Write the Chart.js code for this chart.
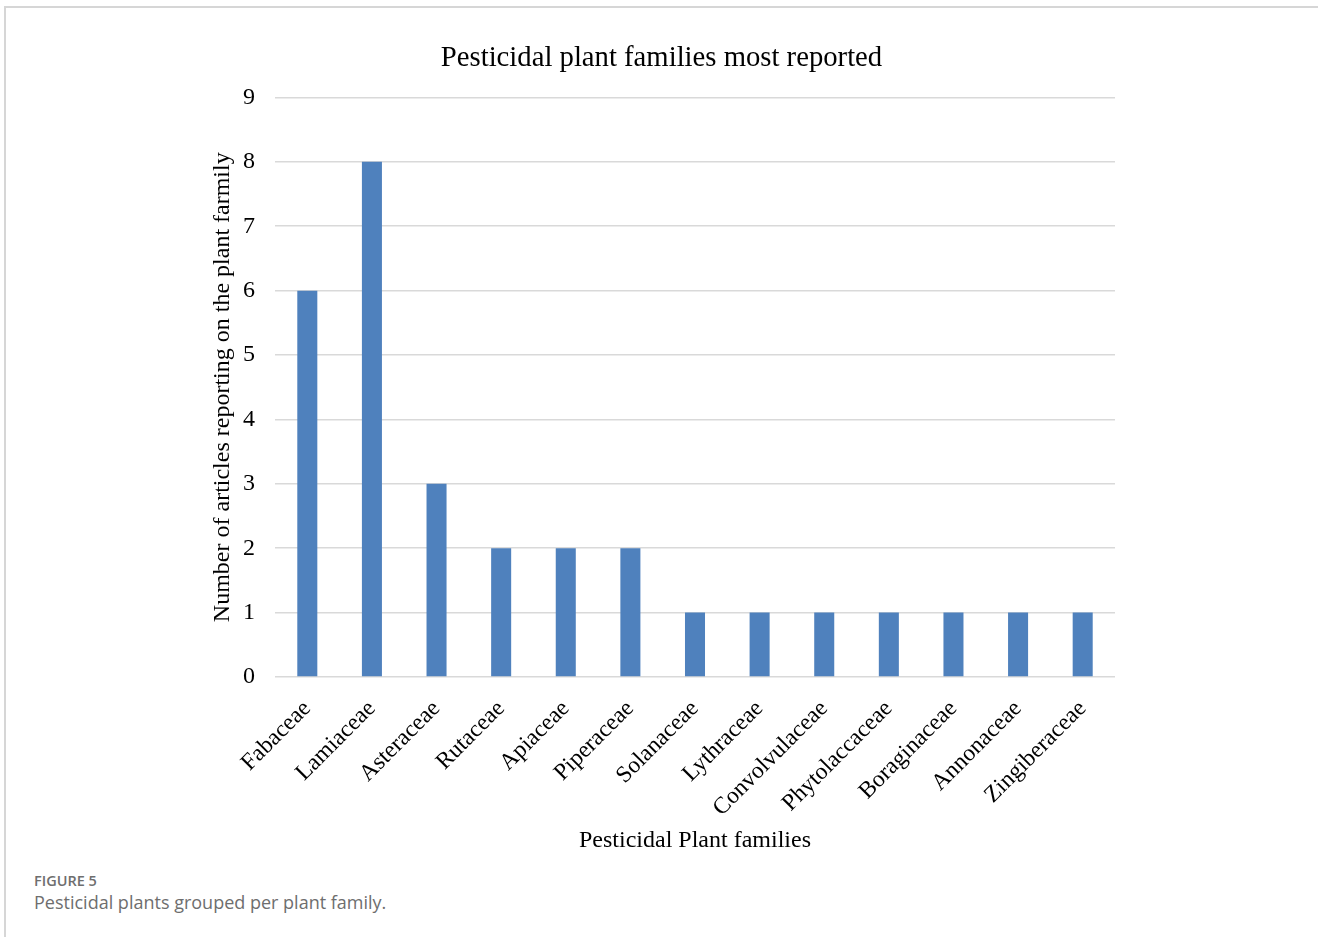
<!DOCTYPE html>
<html><head><meta charset="utf-8">
<script src="https://cdn.jsdelivr.net/npm/chart.js@4/dist/chart.umd.min.js"></script>
<style>
html,body{margin:0;padding:0;background:#fff;width:1318px;height:937px;overflow:hidden;}
#frame{position:absolute;left:4px;top:6px;width:1330px;height:960px;border-left:2px solid #d6d6d6;border-top:2px solid #d6d6d6;}
#wrap{position:absolute;left:0;top:0;width:1318px;height:865px;}
#cap1{position:absolute;left:34px;top:871px;font-family:"Open Sans",Lato,sans-serif;font-weight:600;font-size:14.5px;color:#6e6e6e;}
#cap2{position:absolute;left:34px;top:890px;font-family:"Open Sans",Lato,sans-serif;font-size:18px;color:#6e6e6e;}
</style></head>
<body>
<div id="frame"></div>
<div id="wrap"><canvas id="c" width="1318" height="865"></canvas></div>
<div id="cap1">FIGURE 5</div>
<div id="cap2">Pesticidal plants grouped per plant family.</div>
<script>
const families = ["Fabaceae","Lamiaceae","Asteraceae","Rutaceae","Apiaceae","Piperaceae","Solanaceae","Lythraceae","Convolvulaceae","Phytolaccaceae","Boraginaceae","Annonaceae","Zingiberaceae"];
const articleCounts = [6,8,3,2,2,2,1,1,1,1,1,1,1];
const yTicks = [0,1,2,3,4,5,6,7,8,9];
const chartTitle = "Pesticidal plant families most reported";
const xTitle = "Pesticidal Plant families";
const yTitle = "Number of articles reporting on the plant farmily";

const serif = "'Liberation Serif','Times New Roman',serif";
new Chart(document.getElementById('c'), {
  type: 'bar',
  data: { labels: families, datasets: [{ data: articleCounts, backgroundColor: '#4f81bd', barPercentage: 0.31, categoryPercentage: 1 }] },
  options: {
    responsive: false, animation: false,
    layout: { padding: { left: 208, right: 203, top: 41, bottom: 0 } },
    plugins: {
      legend: { display: false }, tooltip: { enabled: false },
      title: { display: true, text: chartTitle, color: '#000', font: { family: serif, size: 28.7, weight: 'normal' }, padding: { top: 0, bottom: 22 } }
    },
    scales: {
      x: {
        grid: { display: false }, border: { display: false },
        ticks: { color: '#000', font: { family: serif, size: 23.5 }, minRotation: 45, maxRotation: 45, padding: 10 },
        title: { display: true, text: xTitle, color: '#000', font: { family: serif, size: 24 }, padding: { top: 14, bottom: 10 } },
        afterFit: s => { s.height = 188; }
      },
      y: {
        min: 0, max: 9,
        afterBuildTicks: s => { s.ticks = yTicks.map(v => ({ value: v })); },
        grid: { color: '#d9d9d9', lineWidth: 1.5, drawTicks: false },
        border: { display: false },
        ticks: { color: '#000', font: { family: serif, size: 24 }, padding: 20 },
        title: { display: true, text: yTitle, color: '#000', font: { family: serif, size: 24 }, padding: { top: 0, bottom: 0 } },
        afterFit: s => { s.width = 67; }
      }
    }
  }
});
</script>
</body></html>
